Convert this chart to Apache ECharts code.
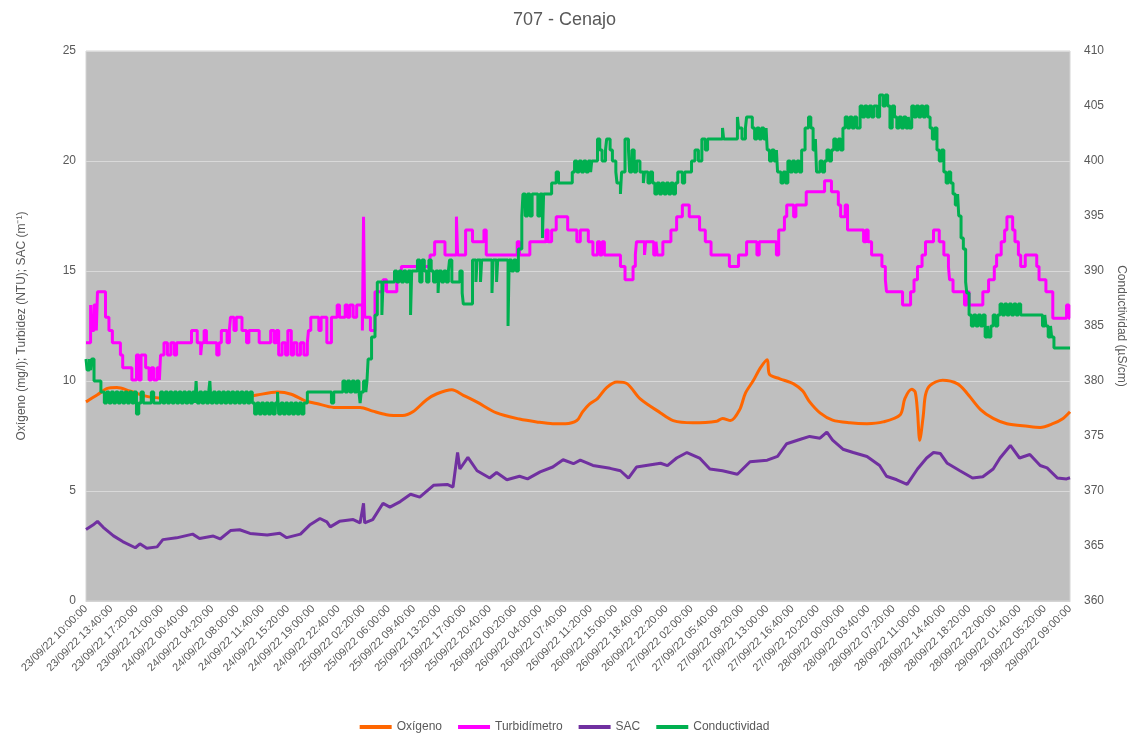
<!DOCTYPE html>
<html>
<head>
<meta charset="utf-8">
<title>707 - Cenajo</title>
<script src="https://cdn.jsdelivr.net/npm/echarts@6/dist/echarts.min.js"></script>
<style>
  html, body { margin: 0; padding: 0; background: #fff; overflow: hidden; }
  #chart { width: 1129px; height: 733px; }
</style>
</head>
<body>
<div id="chart"></div>
<script>
// x = sample number, one sample every 10 min starting 23/09/22 10:00:00 (858 = 29/09/22 09:00:00)
const tickLabels = [
  '23/09/22 10:00:00','23/09/22 13:40:00','23/09/22 17:20:00','23/09/22 21:00:00',
  '24/09/22 00:40:00','24/09/22 04:20:00','24/09/22 08:00:00','24/09/22 11:40:00',
  '24/09/22 15:20:00','24/09/22 19:00:00','24/09/22 22:40:00','25/09/22 02:20:00',
  '25/09/22 06:00:00','25/09/22 09:40:00','25/09/22 13:20:00','25/09/22 17:00:00',
  '25/09/22 20:40:00','26/09/22 00:20:00','26/09/22 04:00:00','26/09/22 07:40:00',
  '26/09/22 11:20:00','26/09/22 15:00:00','26/09/22 18:40:00','26/09/22 22:20:00',
  '27/09/22 02:00:00','27/09/22 05:40:00','27/09/22 09:20:00','27/09/22 13:00:00',
  '27/09/22 16:40:00','27/09/22 20:20:00','28/09/22 00:00:00','28/09/22 03:40:00',
  '28/09/22 07:20:00','28/09/22 11:00:00','28/09/22 14:40:00','28/09/22 18:20:00',
  '28/09/22 22:00:00','29/09/22 01:40:00','29/09/22 05:20:00','29/09/22 09:00:00'
]
const TICK_STEP = 22   // 220 min between labels

// Oxígeno (mg/l)
const oxigeno = [
  [0,9.05],[10,9.37],[18,9.65],[27,9.7],[38,9.55],[53,9.3],[69,9.2],[86,9.12],[108,9.1],
  [126,9.12],[139,9.25],[149,9.36],[167,9.5],[179,9.4],[191,9.1],[201,8.98],[216,8.8],
  [239,8.8],[250,8.63],[262,8.47],[276,8.43],[285,8.6],[297,9.15],[306,9.42],[319,9.6],
  [329,9.35],[341,9.04],[358,8.55],[378,8.27],[393,8.14],[407,8.06],[418,8.06],[428,8.2],
  [433,8.6],[439,8.95],[446,9.2],[454,9.7],[463,9.95],[472,9.87],[483,9.2],[501,8.55],
  [512,8.2],[529,8.1],[550,8.17],[555,8.3],[562,8.2],[570,8.7],[575,9.45],[582,10.03],
  [588,10.6],[594,10.97],[596,10.3],[605,10.1],[617,9.87],[625,9.54],[631,9.05],[640,8.55],
  [651,8.22],[666,8.1],[681,8.06],[695,8.14],[710,8.47],[714,9.2],[720,9.62],[723,9.5],
  [725,8.63],[727,7.31],[730,8.4],[732,9.37],[736,9.8],[747,10.03],[760,9.87],[768,9.46],
  [780,8.7],[791,8.3],[803,8.06],[821,7.94],[832,7.89],[843,8.06],[852,8.3],[858,8.6]
]

// Turbidímetro (NTU), value holds until the next point
const turbidimetro = [
  [0,11.74],[4,13.45],[5,12.3],[7,13.45],[9,12.3],[10,14.06],[17,12.9],[20,12.3],[23,11.74],
  [30,11.18],[32,10.6],[40,10.05],[44,11.18],[46,10.05],[48,11.18],[52,10.6],[55,10.05],
  [57,10.6],[59,10.05],[62,10.6],[64,10.05],[65,11.18],[68,11.74],[71,11.18],[74,11.74],
  [77,11.18],[79,11.74],[92,12.3],[97,11.74],[100,11.18],[101,11.74],[103,12.3],[105,11.74],
  [114,11.18],[116,11.74],[118,12.3],[123,11.74],[125,12.3],[126,12.9],[129,12.3],[131,12.9],
  [136,12.3],[140,11.74],[142,12.3],[151,11.74],[161,12.3],[164,11.74],[166,12.3],[168,11.18],
  [171,11.74],[174,11.18],[176,12.3],[179,11.18],[181,11.74],[184,11.18],[187,11.74],
  [190,11.18],[193,11.74],[194,12.3],[196,12.9],[203,12.3],[205,12.9],[210,11.74],[214,12.9],
  [219,13.45],[221,12.9],[226,13.45],[228,12.9],[230,13.45],[233,12.9],[236,13.45],[241,12.3],
  [242,17.47],[243,12.9],[248,12.3],[252,14.06],[259,14.6],[262,14.06],[271,14.6],[275,15.2],
  [300,15.73],[304,16.33],[313,15.73],[323,17.47],[324,15.73],[331,16.86],[337,16.33],
  [347,16.86],[349,15.73],[376,16.33],[378,15.73],[387,16.33],[401,16.86],[403,16.33],
  [406,16.86],[410,17.47],[420,16.86],[428,16.33],[431,16.86],[438,16.33],[442,15.73],
  [446,16.33],[448,15.73],[450,16.33],[452,15.73],[466,15.2],[470,14.6],[477,15.2],[479,15.73],
  [480,16.33],[487,15.73],[488,16.33],[495,15.73],[497,16.33],[498,15.73],[503,16.33],
  [510,16.86],[515,17.47],[520,18.0],[526,17.47],[535,16.86],[540,16.33],[545,15.73],
  [561,15.2],[569,15.73],[576,16.33],[585,15.73],[587,16.33],[602,15.73],[604,16.86],
  [609,17.47],[611,18.0],[617,17.47],[619,18.0],[628,18.6],[644,19.1],[650,18.6],[656,18.0],
  [658,17.47],[662,18.0],[664,16.86],[678,16.33],[680,16.86],[682,16.33],[685,15.73],
  [694,15.2],[697,14.6],[698,14.06],[712,13.45],[719,14.06],[722,14.6],[725,15.2],[729,15.73],
  [732,16.33],[739,16.86],[744,16.33],[748,15.73],[752,15.2],[753,14.6],[756,14.06],
  [766,13.45],[768,14.06],[770,13.45],[782,14.06],[787,14.6],[792,15.2],[794,15.73],
  [798,16.33],[801,16.86],[803,17.47],[808,16.86],[810,16.33],[813,15.73],[815,15.2],
  [819,15.73],[829,15.2],[831,14.6],[837,14.06],[843,12.85],[855,13.45],[857,12.85],[858,12.85]
]

// SAC (m-1)
const sac = [
  [0,3.25],[6,3.45],[10,3.62],[15,3.35],[24,2.96],[32,2.7],[43,2.42],[47,2.6],[53,2.4],
  [62,2.46],[67,2.79],[79,2.87],[93,3.04],[99,2.84],[111,2.95],[117,2.82],[126,3.2],
  [134,3.24],[143,3.07],[158,3.0],[169,3.08],[175,2.88],[187,3.04],[195,3.45],[204,3.75],
  [210,3.6],[213,3.37],[221,3.62],[233,3.7],[239,3.55],[242,4.44],[243,3.55],[250,3.7],
  [259,4.44],[265,4.27],[274,4.52],[283,4.85],[291,4.72],[303,5.26],[315,5.3],[320,5.18],
  [324,6.75],[326,6.0],[333,6.53],[341,5.92],[352,5.59],[358,5.84],[367,5.51],[378,5.67],
  [385,5.55],[396,5.87],[407,6.09],[416,6.42],[425,6.24],[431,6.4],[442,6.16],[457,6.03],
  [466,5.92],[473,5.59],[480,6.09],[501,6.26],[507,6.15],[515,6.5],[524,6.75],[535,6.5],
  [544,6.0],[555,5.92],[568,5.76],[579,6.33],[594,6.4],[603,6.57],[611,7.15],[623,7.35],
  [631,7.48],[640,7.4],[646,7.68],[651,7.31],[660,6.9],[669,6.75],[681,6.57],[692,6.16],
  [698,5.67],[707,5.51],[716,5.3],[725,6.0],[733,6.5],[739,6.75],[745,6.7],[751,6.26],
  [762,5.92],[773,5.59],[782,5.65],[791,6.0],[797,6.5],[806,7.07],[814,6.5],[823,6.66],
  [832,6.16],[838,6.05],[847,5.59],[855,5.55],[858,5.6]
]

// Conductividad (µS/cm), value holds until the next point
const conductividad = [
  [0,382],[1,381],[3,382],[4,381],[5,382],[7,380],[13,379],[16,378],[18,379],[20,378],
  [22,379],[24,378],[26,379],[28,378],[30,379],[32,378],[34,379],[36,378],[38,379],[40,378],
  [42,379],[44,377],[46,378],[48,379],[50,378],[57,379],[59,378],[65,379],[67,378],[69,379],
  [71,378],[73,379],[75,378],[77,379],[79,378],[81,379],[83,378],[85,379],[87,378],[89,379],
  [91,378],[93,379],[95,378],[96,380],[97,378],[99,379],[101,378],[103,379],[105,378],
  [107,379],[108,380],[109,378],[111,379],[113,378],[115,379],[117,378],[119,379],[121,378],
  [123,379],[125,378],[127,379],[129,378],[131,379],[133,378],[135,379],[137,378],[139,379],
  [141,378],[143,379],[145,378],[147,377],[149,378],[151,377],[153,378],[155,377],[157,378],
  [159,377],[161,378],[163,377],[165,378],[167,379],[168,377],[170,378],[172,377],[174,378],
  [176,377],[178,378],[180,377],[182,378],[184,377],[186,378],[188,377],[190,378],[193,379],
  [214,378],[216,379],[224,380],[226,379],[228,380],[230,379],[232,380],[234,379],[236,380],
  [238,379],[239,378],[240,379],[242,380],[244,379],[245,380],[246,382],[249,384],[252,386],
  [254,389],[258,386],[259,389],[269,390],[271,389],[273,390],[275,389],[277,390],[279,389],
  [281,390],[283,386],[284,390],[289,391],[291,389],[293,391],[295,390],[297,389],[299,391],
  [301,390],[303,389],[305,390],[307,388],[308,390],[310,389],[312,390],[314,389],[316,390],
  [317,391],[319,389],[326,390],[328,388],[329,387],[337,391],[340,389],[341,391],[344,389],
  [345,391],[354,388],[355,391],[358,389],[359,391],[368,385],[369,391],[371,390],[373,391],
  [375,390],[377,392],[380,395],[381,397],[383,395],[385,397],[387,395],[389,397],[394,395],
  [396,397],[398,393],[399,397],[406,398],[410,399],[412,398],[424,399],[426,400],[428,399],
  [430,400],[432,399],[434,400],[436,399],[438,400],[440,399],[441,400],[446,402],[448,401],
  [450,400],[453,401],[454,402],[457,401],[459,400],[462,399],[463,398],[466,397],[467,399],
  [470,402],[473,401],[474,399],[476,401],[478,399],[480,400],[483,399],[486,398],[487,399],
  [490,398],[492,399],[494,398],[496,397],[498,398],[500,397],[502,398],[504,397],[506,398],
  [508,397],[510,398],[512,397],[514,398],[516,399],[520,398],[522,399],[528,400],[531,401],
  [534,400],[537,402],[540,401],[542,402],[555,403],[556,402],[568,404],[569,403],[572,402],
  [575,403],[576,404],[581,403],[583,402],[585,403],[587,402],[589,403],[591,402],[593,403],
  [594,401],[596,400],[598,401],[600,400],[602,401],[603,399],[606,398],[608,399],[610,398],
  [612,400],[614,399],[616,400],[618,399],[620,400],[622,399],[624,401],[627,403],[630,404],
  [632,403],[634,401],[636,402],[637,399],[640,400],[642,399],[644,400],[646,401],[648,400],
  [650,401],[652,402],[654,401],[656,402],[658,401],[660,403],[662,404],[664,403],[666,404],
  [668,403],[670,404],[672,403],[675,405],[677,404],[679,405],[681,404],[683,405],[685,404],
  [687,405],[690,404],[692,406],[695,405],[697,406],[699,405],[701,403],[703,405],[705,404],
  [707,403],[709,404],[711,403],[713,404],[715,403],[717,404],[718,403],[720,405],[722,404],
  [724,405],[726,404],[728,405],[730,404],[732,405],[734,404],[736,403],[738,402],[740,403],
  [742,401],[744,400],[746,401],[748,399],[750,398],[752,399],[754,398],[756,397],[758,396],
  [760,397],[761,395],[763,393],[765,392],[767,389],[768,388],[770,386],[772,385],[774,386],
  [776,385],[778,386],[780,385],[782,386],[784,384],[786,385],[787,384],[789,385],[791,386],
  [793,385],[795,386],[797,387],[799,386],[801,387],[803,386],[805,387],[807,386],[809,387],
  [811,386],[813,387],[815,386],[834,385],[836,386],[837,385],[839,384],[841,385],[842,384],
  [844,383],[858,383]
]

const textColor = '#595959'
const font = '"Liberation Sans", Arial, sans-serif'

const chart = echarts.init(document.getElementById('chart'))

const options = {
  animation: false,
  textStyle: { fontFamily: font },
  title: {
    text: '707 - Cenajo',
    left: 'center',
    top: 6,
    textStyle: { color: textColor, fontSize: 18, fontWeight: 'normal', fontFamily: font }
  },
  legend: {
    top: 716,
    left: 'center',
    icon: 'rect',
    itemWidth: 32,
    itemHeight: 4,
    itemGap: 16,
    textStyle: { color: textColor, fontSize: 12 },
    data: ['Oxígeno', 'Turbidímetro', 'SAC', 'Conductividad']
  },
  grid: {
    left: 86,
    right: 59,
    top: 51,
    bottom: 132,
    outerBoundsMode: 'none',
    show: true,
    backgroundColor: '#bfbfbf',
    borderColor: '#d4d4d4',
    borderWidth: 1
  },
  xAxis: {
    type: 'value',
    min: 0,
    max: 858,
    interval: TICK_STEP,
    axisLine: { show: true, lineStyle: { color: '#d4d4d4' } },
    axisTick: { show: false },
    splitLine: { show: false },
    axisLabel: {
      rotate: 45,
      margin: 6,
      color: textColor,
      fontSize: 11,
      formatter: v => tickLabels[Math.round(v / TICK_STEP)]
    }
  },
  yAxis: [
    {
      type: 'value',
      min: 0,
      max: 25,
      interval: 5,
      name: 'Oxígeno (mg/l); Turbidez (NTU); SAC (m⁻¹)',
      nameLocation: 'middle',
      nameGap: 58,
      nameTextStyle: { color: textColor, fontSize: 12 },
      axisLine: { show: false },
      axisTick: { show: false },
      axisLabel: { color: textColor, fontSize: 12, margin: 10 },
      splitLine: { lineStyle: { color: '#d9d9d9', width: 1 } }
    },
    {
      type: 'value',
      min: 360,
      max: 410,
      interval: 5,
      name: 'Conductividad (µS/cm)',
      nameLocation: 'middle',
      nameRotate: -90,
      nameGap: 44,
      nameTextStyle: { color: textColor, fontSize: 12 },
      axisLine: { show: false },
      axisTick: { show: false },
      axisLabel: { color: textColor, fontSize: 12, margin: 14 },
      splitLine: { show: false }
    }
  ],
  series: [
    {
      name: 'Oxígeno',
      type: 'line',
      yAxisIndex: 0,
      data: oxigeno,
      showSymbol: false,
      smooth: 0.3,
      color: '#ff6600',
      lineStyle: { width: 3 }
    },
    {
      name: 'Turbidímetro',
      type: 'line',
      yAxisIndex: 0,
      data: turbidimetro,
      showSymbol: false,
      step: 'end',
      color: '#ff00ff',
      lineStyle: { width: 3 }
    },
    {
      name: 'SAC',
      type: 'line',
      yAxisIndex: 0,
      data: sac,
      showSymbol: false,
      color: '#7030a0',
      lineStyle: { width: 3 }
    },
    {
      name: 'Conductividad',
      type: 'line',
      yAxisIndex: 1,
      data: conductividad,
      showSymbol: false,
      step: 'end',
      color: '#00b050',
      lineStyle: { width: 3 }
    }
  ]
}

chart.setOption(options)
</script>
</body>
</html>
